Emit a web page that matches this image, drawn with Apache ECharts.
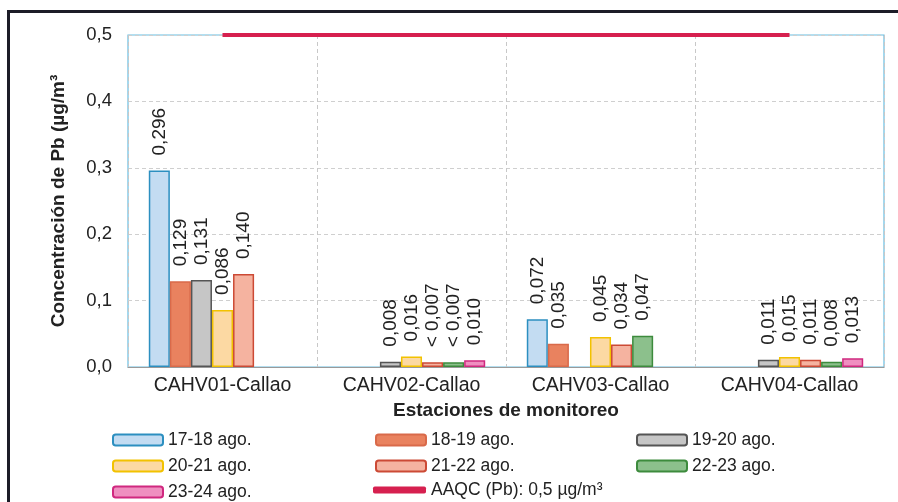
<!DOCTYPE html>
<html>
<head>
<meta charset="utf-8">
<script src="https://cdn.jsdelivr.net/npm/echarts@6/dist/echarts.min.js"></script>
<style>
  html, body { margin: 0; padding: 0; background: #fff; }
  #chart { position: absolute; left: 0; top: 0; width: 898px; height: 502px; }
  .frame {
    position: absolute; left: 7px; top: 10px; width: 900px; height: 500px;
    border-left: 3px solid #1c1c28; border-top: 3px solid #1c1c28;
    pointer-events: none;
  }
</style>
</head>
<body>
<div id="chart"></div>
<div class="frame"></div>
<script>
// estaciones
const stations = ['CAHV01-Callao', 'CAHV02-Callao', 'CAHV03-Callao', 'CAHV04-Callao']
const yTicks = [0, 0.1, 0.2, 0.3, 0.4, 0.5]

// concentraciones por periodo (null = sin dato)
const p1718 = [0.296, null, 0.072, null]
const p1819 = [0.129, null, 0.035, null]
const p1920 = [0.131, 0.008, null, 0.011]
const p2021 = [0.086, 0.016, 0.045, 0.015]
const p2122 = [0.140, 0.007, 0.034, 0.011]
const p2223 = [null, 0.007, 0.047, 0.008]
const p2324 = [null, 0.010, null, 0.013]
// valores reportados como "< 0,007" (indice de estacion)
const below2122 = [1]
const below2223 = [1]

const aaqc = [0.5, 0.5, 0.5, 0.5]

const fmt = v => v.toFixed(3).replace('.', ',')

const mkBar = (name, data, fill, border, below) => ({
  name,
  type: 'bar',
  data,
  barGap: '0%',
  barCategoryGap: '22%',
  itemStyle: { color: fill, borderColor: border, borderWidth: 1.5 },
  label: {
    show: true,
    position: 'top',
    rotate: 90,
    align: 'left',
    verticalAlign: 'middle',
    distance: 15,
    fontFamily: 'Liberation Sans, Arial, sans-serif',
    fontSize: 19,
    color: '#222',
    formatter: p => (below || []).includes(p.dataIndex) ? '< ' + fmt(p.value) : fmt(p.value)
  }
})

const chart = echarts.init(document.getElementById('chart'))

const legendBase = {
  orient: 'vertical',
  padding: 0,
  itemWidth: 50,
  itemHeight: 11,
  itemGap: 8,
  icon: 'roundRect',
  textStyle: { fontFamily: 'Liberation Sans, Arial, sans-serif', fontSize: 17.5, color: '#222' },
  selectedMode: false
}

chart.setOption({
  animation: false,
  textStyle: { fontFamily: 'Liberation Sans, Arial, sans-serif' },
  grid: {
    left: 128, right: 14, top: 35, bottom: 135,
    show: true, borderColor: '#6bbde0', borderWidth: 1.2
  },
  legend: [
    Object.assign({}, legendBase, { left: 112, top: 431, data: ['17-18 ago.', '20-21 ago.', '23-24 ago.'] }),
    Object.assign({}, legendBase, { left: 375, top: 431, data: ['18-19 ago.', '21-22 ago.'] }),
    Object.assign({}, legendBase, { left: 373, top: 481, itemWidth: 53, itemHeight: 7, data: [{ name: 'AAQC (Pb): 0,5 µg/m³', icon: 'roundRect', itemStyle: { color: '#d6204f' } }] }),
    Object.assign({}, legendBase, { left: 636, top: 431, data: ['19-20 ago.', '22-23 ago.'] })
  ],
  xAxis: {
    type: 'category',
    data: stations,
    name: 'Estaciones de monitoreo',
    nameLocation: 'middle',
    nameGap: 33,
    nameTextStyle: { fontSize: 19, fontWeight: 'bold', color: '#222' },
    axisLine: { lineStyle: { color: '#9a9a9a' } },
    axisTick: { show: false },
    axisLabel: { fontSize: 19.5, color: '#222', margin: 9 },
    splitLine: { show: true, lineStyle: { color: '#c8c8c8', type: [4, 3] } }
  },
  yAxis: {
    type: 'value',
    min: 0,
    max: 0.5,
    interval: 0.1,
    name: 'Concentración de Pb (µg/m³',
    nameLocation: 'middle',
    nameGap: 60,
    nameTextStyle: { fontSize: 19, fontWeight: 'bold', color: '#222' },
    axisLine: { show: false },
    axisTick: { show: false },
    axisLabel: {
      fontSize: 18.5, color: '#222', margin: 16,
      customValues: yTicks,
      formatter: v => v.toFixed(1).replace('.', ',')
    },
    splitLine: { show: true, lineStyle: { color: '#cfcfcf', type: [4, 3] } }
  },
  series: [
    mkBar('17-18 ago.', p1718, '#c3dcf2', '#2c8fc0'),
    mkBar('18-19 ago.', p1819, '#e9825f', '#d96a4a'),
    mkBar('19-20 ago.', p1920, '#c6c6c6', '#555555'),
    mkBar('20-21 ago.', p2021, '#fcd9a3', '#f2c200'),
    mkBar('21-22 ago.', p2122, '#f5b3a0', '#cc4a35', below2122),
    mkBar('22-23 ago.', p2223, '#8cc08c', '#3d8b3d', below2223),
    mkBar('23-24 ago.', p2324, '#ef8fc0', '#d0287f'),
    {
      name: 'AAQC (Pb): 0,5 µg/m³',
      type: 'line',
      data: aaqc,
      symbol: 'none',
      lineStyle: { color: '#d6204f', width: 4 },
      itemStyle: { color: '#d6204f' },
      z: 5
    }
  ]
})
</script>
</body>
</html>
